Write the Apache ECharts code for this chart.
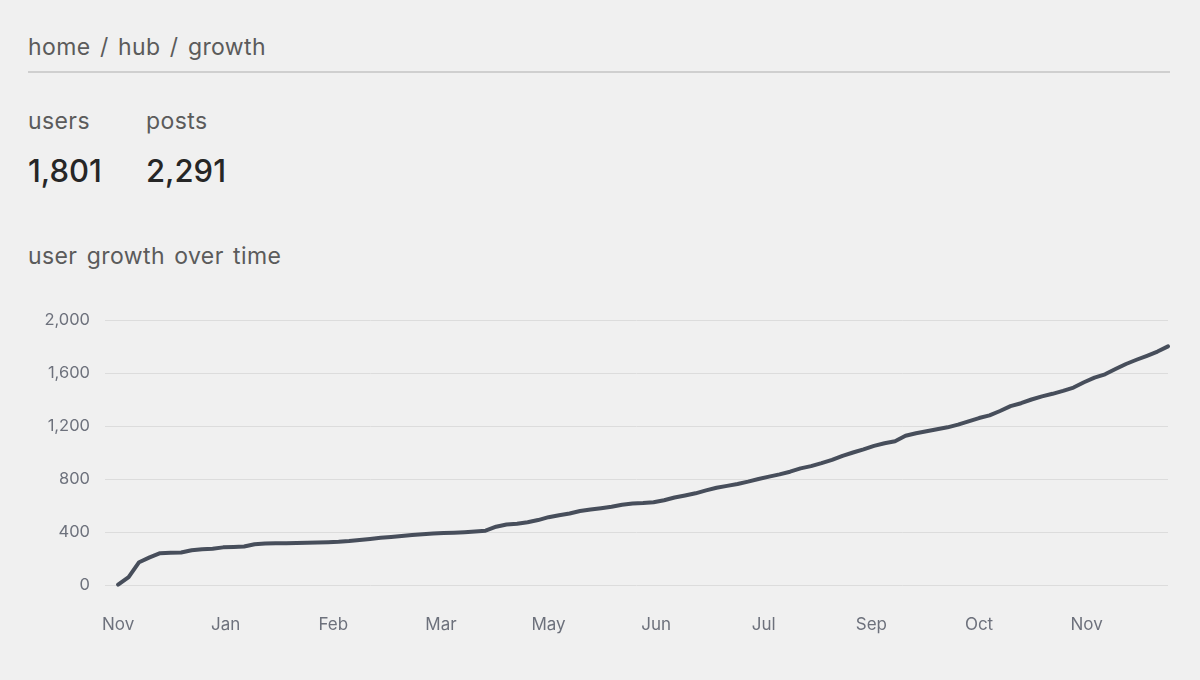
<!DOCTYPE html>
<html>
<head>
<meta charset="utf-8">
<title>user growth</title>
<script src="https://cdn.jsdelivr.net/npm/echarts@6/dist/echarts.min.js"></script>
<style>
  html, body { margin: 0; padding: 0; background: #f0f0f0; }
  body { width: 1200px; height: 680px; position: relative; overflow: hidden; font-family: Inter, 'Noto Sans', sans-serif; }
  .crumb { position: absolute; left: 28px; top: 33px; font-size: 23px; color: #5b5b5b; letter-spacing: 0.4px; word-spacing: 2.5px; }
  .rule { position: absolute; left: 28px; top: 71px; width: 1142px; height: 2px; background: #cfcfcf; }
  .stat { position: absolute; top: 107px; }
  .stat .k { font-size: 23px; color: #5b5b5b; letter-spacing: 0.4px; }
  .stat .v { font-size: 31px; color: #262626; font-weight: 500; margin-top: 17px; }
  .sub { position: absolute; left: 28px; top: 242px; font-size: 23px; color: #5b5b5b; letter-spacing: 0.4px; word-spacing: 2.5px; }
  #chart { position: absolute; left: 0; top: 0; width: 1200px; height: 680px; }
</style>
</head>
<body>
<div class="crumb">home / hub / growth</div>
<div class="rule"></div>
<div class="stat" style="left:28px"><div class="k">users</div><div class="v">1,801</div></div>
<div class="stat" style="left:146px"><div class="k">posts</div><div class="v">2,291</div></div>
<div class="sub">user growth over time</div>
<div id="chart"></div>
<script>
  // dates sampled every 4 days
  var dates = [
    '2023-11-22', '2023-11-26', '2023-11-30', '2023-12-04', '2023-12-08', '2023-12-12', '2023-12-16', '2023-12-20', '2023-12-24', '2023-12-28',
    '2024-01-01', '2024-01-05', '2024-01-09', '2024-01-13', '2024-01-17', '2024-01-21', '2024-01-25', '2024-01-29', '2024-02-02', '2024-02-06',
    '2024-02-10', '2024-02-14', '2024-02-18', '2024-02-22', '2024-02-26', '2024-03-01', '2024-03-05', '2024-03-09', '2024-03-13', '2024-03-17',
    '2024-03-21', '2024-03-25', '2024-03-29', '2024-04-02', '2024-04-06', '2024-04-10', '2024-04-14', '2024-04-18', '2024-04-22', '2024-04-26',
    '2024-04-30', '2024-05-04', '2024-05-08', '2024-05-12', '2024-05-16', '2024-05-20', '2024-05-24', '2024-05-28', '2024-06-01', '2024-06-05',
    '2024-06-09', '2024-06-13', '2024-06-17', '2024-06-21', '2024-06-25', '2024-06-29', '2024-07-03', '2024-07-07', '2024-07-11', '2024-07-15',
    '2024-07-19', '2024-07-23', '2024-07-27', '2024-07-31', '2024-08-04', '2024-08-08', '2024-08-12', '2024-08-16', '2024-08-20', '2024-08-24',
    '2024-08-28', '2024-09-01', '2024-09-05', '2024-09-09', '2024-09-13', '2024-09-17', '2024-09-21', '2024-09-25', '2024-09-29', '2024-10-03',
    '2024-10-07', '2024-10-11', '2024-10-15', '2024-10-19', '2024-10-23', '2024-10-27', '2024-10-31', '2024-11-04', '2024-11-08', '2024-11-12',
    '2024-11-16', '2024-11-20', '2024-11-24', '2024-11-28', '2024-12-02', '2024-12-06', '2024-12-10', '2024-12-14', '2024-12-18', '2024-12-22',
    '2024-12-26'
  ];

  // cumulative users
  var users = [
    3, 60, 172, 208, 240, 244, 245, 262, 270, 274,
    284, 287, 290, 308, 314, 316, 316, 317, 318, 320,
    323, 326, 332, 340, 348, 357, 363, 370, 377, 383,
    388, 392, 395, 399, 404, 410, 440, 457, 463, 474,
    490, 512, 527, 540, 558, 570, 580, 590, 605, 615,
    619, 625, 640, 660, 676, 692, 714, 734, 748, 762,
    780, 800, 818, 835, 855, 880, 897, 920, 945, 975,
    1000, 1024, 1050, 1070, 1085, 1126, 1145, 1160, 1175, 1190,
    1210, 1235, 1260, 1280, 1313, 1350, 1372, 1400, 1424, 1443,
    1465, 1490, 1530, 1565, 1590, 1630, 1668, 1700, 1730, 1762,
    1801
  ];

  var tickDates = ['2023-11-22', '2024-01-02', '2024-02-12', '2024-03-24', '2024-05-04', '2024-06-14', '2024-07-25', '2024-09-04', '2024-10-15', '2024-11-25'];
  var tickLabels = ['Nov', 'Jan', 'Feb', 'Mar', 'May', 'Jun', 'Jul', 'Sep', 'Oct', 'Nov'];
  var axisStart = '2023-11-17';

  // days since axisStart
  var DAY = 86400000;
  function toDay(s) {
    return Math.round((new Date(s + 'T00:00:00').getTime() - new Date(axisStart + 'T00:00:00').getTime()) / DAY);
  }

  var tickDays = tickDates.map(toDay);
  var seriesData = dates.map(function (d, i) { return [toDay(d), users[i]]; });

  var chart = echarts.init(document.getElementById('chart'), null, { renderer: 'canvas' });

  var option = {
    backgroundColor: 'transparent',
    animation: false,
    textStyle: { fontFamily: 'Inter, sans-serif' },
    grid: { left: 105, right: 32, top: 320, bottom: 95 },
    xAxis: {
      type: 'value',
      min: 0,
      max: 'dataMax',
      axisLine: { show: false },
      axisTick: { show: false },
      splitLine: { show: false },
      axisLabel: {
        customValues: tickDays,
        color: '#6d717c',
        fontSize: 17,
        margin: 31,
        formatter: function (val) {
          var idx = tickDays.indexOf(val);
          return idx >= 0 ? tickLabels[idx] : '';
        }
      }
    },
    yAxis: {
      type: 'value',
      min: 0,
      max: 2000,
      interval: 400,
      axisLine: { show: false },
      axisTick: { show: false },
      splitLine: { lineStyle: { color: '#dcdcdc', width: 1 } },
      axisLabel: {
        color: '#6d717c',
        fontSize: 16.5,
        margin: 15,
        formatter: function (v) { return v.toLocaleString('en-US'); }
      }
    },
    series: [{
      type: 'line',
      data: seriesData,
      showSymbol: false,
      lineStyle: { color: '#474e5b', width: 4, join: 'round', cap: 'round' },
      itemStyle: { color: '#474e5b' }
    }]
  };

  chart.setOption(option);
  window.addEventListener('resize', function () { chart.resize(); });
</script>
</body>
</html>
